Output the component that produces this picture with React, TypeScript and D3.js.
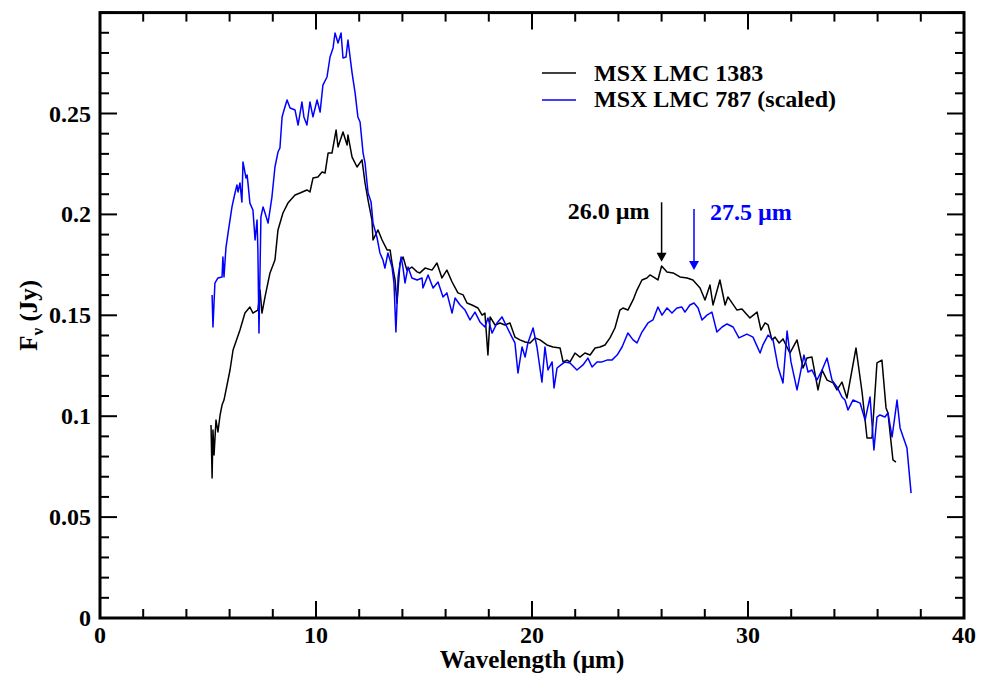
import React from "react";
import * as d3 from "d3";

// ---- data (wavelength in µm, flux in Jy) ----
const lmc1383Wave = [
  5.14, 5.19, 5.23, 5.28, 5.37, 5.46, 5.56, 5.65, 5.74, 6.02, 6.16, 6.48, 6.71, 6.94, 7.08, 7.31, 7.41, 7.5, 7.64,
  7.87, 8.1, 8.24, 8.47, 8.7, 9.03, 9.26, 9.58, 9.72, 9.86, 10.09, 10.28, 10.42, 10.56, 10.74, 10.93, 11.02, 11.25,
  11.44, 11.48, 11.67, 11.9, 12.13, 12.27, 12.41, 12.59, 12.64, 12.87, 13.06, 13.29, 13.43, 13.52, 13.66, 13.75,
  13.89, 14.03, 14.21, 14.44, 14.68, 14.81, 15.05, 15.37, 15.6, 15.83, 16.06, 16.3, 16.57, 16.81, 16.99, 17.22,
  17.5, 17.69, 17.82, 17.96, 18.06, 18.29, 18.52, 18.75, 18.98, 19.21, 19.44, 19.68, 19.91, 20.14, 20.37, 20.69,
  20.97, 21.3, 21.44, 21.62, 21.76, 21.99, 22.22, 22.45, 22.69, 22.92, 23.15, 23.38, 23.61, 23.84, 24.07, 24.21,
  24.44, 24.68, 24.86, 25.09, 25.32, 25.46, 25.69, 25.83, 26.0, 26.25, 26.53, 26.85, 27.18, 27.45, 27.78, 28.01,
  28.24, 28.38, 28.7, 28.94, 29.07, 29.49, 29.72, 30.09, 30.42, 30.6, 30.79, 30.93, 31.11, 31.25, 31.44, 31.62,
  31.94, 32.27, 32.55, 32.73, 32.96, 33.24, 33.43, 33.66, 33.94, 34.12, 34.35, 34.58, 35.0, 35.28, 35.51, 35.74,
  35.97, 36.2, 36.39, 36.48, 36.71, 36.85,
];
const lmc1383Flux = [
  0.0956, 0.0694, 0.0932, 0.0808, 0.0981, 0.0922, 0.1006, 0.1055, 0.108, 0.1229, 0.1328, 0.1427, 0.1511, 0.1541,
  0.1511, 0.1526, 0.1625, 0.1511, 0.1591, 0.171, 0.1774, 0.1923, 0.2007, 0.2056, 0.2096, 0.2106, 0.2121, 0.2111,
  0.218, 0.2185, 0.221, 0.2205, 0.2304, 0.2304, 0.2418, 0.2334, 0.2408, 0.2344, 0.2393, 0.2284, 0.2235, 0.227,
  0.2156, 0.2071, 0.1972, 0.1873, 0.1923, 0.1873, 0.1824, 0.1824, 0.1759, 0.1675, 0.156, 0.1759, 0.1789, 0.1724,
  0.1739, 0.1715, 0.171, 0.1734, 0.1724, 0.1759, 0.1685, 0.1724, 0.1665, 0.1611, 0.1601, 0.1561, 0.1551, 0.1536,
  0.1501, 0.1511, 0.1303, 0.1492, 0.1452, 0.1462, 0.1452, 0.1462, 0.1392, 0.1378, 0.1368, 0.1363, 0.1388, 0.1378,
  0.1353, 0.1343, 0.1338, 0.1269, 0.1278, 0.1269, 0.1313, 0.1293, 0.1313, 0.1303, 0.1338, 0.1343, 0.1353, 0.1388,
  0.1437, 0.1526, 0.1536, 0.1526, 0.1576, 0.1625, 0.1675, 0.1685, 0.17, 0.1685, 0.1675, 0.1744, 0.1715, 0.171,
  0.169, 0.1685, 0.1675, 0.1635, 0.1576, 0.165, 0.1551, 0.1675, 0.1551, 0.1591, 0.1526, 0.1531, 0.1487, 0.1516,
  0.1427, 0.1462, 0.1452, 0.1378, 0.1392, 0.1363, 0.1383, 0.1313, 0.1378, 0.1239, 0.1288, 0.1293, 0.113, 0.1229,
  0.1179, 0.1165, 0.113, 0.1169, 0.109, 0.1338, 0.112, 0.0892, 0.0892, 0.1264, 0.1278, 0.1041, 0.1016, 0.0783,
  0.0773,
];

const lmc787Wave = [
  5.19, 5.23, 5.32, 5.46, 5.65, 5.69, 5.74, 5.83, 5.93, 6.11, 6.25, 6.34, 6.39, 6.48, 6.57, 6.62, 6.76, 6.81, 6.85,
  6.94, 7.08, 7.18, 7.27, 7.31, 7.36, 7.45, 7.55, 7.64, 7.78, 7.96, 8.1, 8.24, 8.33, 8.43, 8.52, 8.66, 8.8, 9.03,
  9.17, 9.35, 9.44, 9.58, 9.72, 9.86, 10.05, 10.19, 10.32, 10.51, 10.65, 10.79, 10.88, 11.02, 11.16, 11.25, 11.39,
  11.48, 11.67, 11.81, 11.94, 12.04, 12.18, 12.27, 12.41, 12.55, 12.64, 12.82, 12.96, 13.1, 13.19, 13.33, 13.52,
  13.61, 13.7, 13.8, 13.94, 14.03, 14.12, 14.26, 14.44, 14.68, 14.91, 14.95, 15.19, 15.42, 15.65, 15.88, 16.06,
  16.3, 16.44, 16.67, 16.9, 17.13, 17.36, 17.59, 17.82, 17.96, 18.15, 18.38, 18.61, 18.84, 19.07, 19.21, 19.35,
  19.54, 19.68, 19.81, 20.05, 20.23, 20.46, 20.6, 20.74, 20.93, 21.02, 21.16, 21.34, 21.53, 21.76, 22.08, 22.36,
  22.59, 22.78, 23.01, 23.24, 23.47, 23.7, 23.94, 24.17, 24.44, 24.68, 24.86, 25.09, 25.37, 25.6, 25.83, 26.02,
  26.25, 26.48, 26.71, 26.94, 27.08, 27.31, 27.5, 27.69, 27.87, 28.1, 28.33, 28.56, 28.8, 29.03, 29.31, 29.58,
  29.95, 30.23, 30.56, 30.69, 30.93, 31.16, 31.39, 31.62, 31.81, 31.99, 32.27, 32.59, 32.78, 32.96, 33.19, 33.43,
  33.66, 33.89, 34.12, 34.35, 34.49, 34.63, 34.86, 35.19, 35.42, 35.65, 35.83, 35.97, 36.11, 36.34, 36.48, 36.67,
  36.9, 37.04, 37.36, 37.55,
];
const lmc787Flux = [
  0.1601, 0.1442, 0.166, 0.1685, 0.169, 0.1789, 0.169, 0.1834, 0.1908, 0.2037, 0.2106, 0.2146, 0.2111, 0.2156,
  0.2061, 0.226, 0.218, 0.2195, 0.2156, 0.2056, 0.2022, 0.1873, 0.1972, 0.1824, 0.1412, 0.1987, 0.2037, 0.2007,
  0.1957, 0.2086, 0.2235, 0.2309, 0.2329, 0.2483, 0.2517, 0.2567, 0.2527, 0.2517, 0.2443, 0.2557, 0.2483, 0.2443,
  0.2557, 0.2483, 0.2567, 0.2507, 0.2641, 0.2681, 0.278, 0.2825, 0.2899, 0.2849, 0.2899, 0.2775, 0.278, 0.2864,
  0.2701, 0.2602, 0.2483, 0.2458, 0.2304, 0.2255, 0.2106, 0.2061, 0.1957, 0.1888, 0.1809, 0.1774, 0.1734, 0.1809,
  0.1739, 0.166, 0.1417, 0.169, 0.1789, 0.1734, 0.166, 0.1739, 0.1685, 0.1675, 0.1685, 0.1635, 0.17, 0.1635,
  0.1665, 0.1591, 0.1611, 0.1511, 0.1586, 0.1551, 0.1526, 0.1477, 0.1516, 0.1467, 0.1442, 0.1487, 0.1412, 0.1462,
  0.1492, 0.1442, 0.1392, 0.1363, 0.1214, 0.1343, 0.1293, 0.1363, 0.1437, 0.1343, 0.1169, 0.1343, 0.1229, 0.1269,
  0.114, 0.1239, 0.1254, 0.1269, 0.1264, 0.1229, 0.1254, 0.1288, 0.1244, 0.1269, 0.1269, 0.1278, 0.1278, 0.1303,
  0.1343, 0.1412, 0.1378, 0.1363, 0.1417, 0.1462, 0.1477, 0.1541, 0.1501, 0.1536, 0.1511, 0.1536, 0.1541, 0.1516,
  0.1551, 0.1561, 0.1536, 0.1477, 0.1501, 0.1516, 0.1417, 0.1442, 0.1457, 0.1442, 0.1388, 0.1407, 0.1392, 0.1313,
  0.1353, 0.1402, 0.1378, 0.1244, 0.1165, 0.1422, 0.1269, 0.113, 0.1303, 0.1219, 0.1229, 0.1179, 0.1229, 0.1288,
  0.1179, 0.1145, 0.1095, 0.108, 0.1031, 0.108, 0.1065, 0.0981, 0.1095, 0.0833, 0.0996, 0.1006, 0.0996, 0.1016,
  0.0897, 0.108, 0.0942, 0.0842, 0.0619,
];

const seriesNames = ["MSX LMC 1383", "MSX LMC 787 (scaled)"];
const seriesColors = ["#000000", "#0000ff"];

const xMajorTicks = [0, 10, 20, 30, 40];
const xTickLabels = ["0", "10", "20", "30", "40"];
const yMajorTicks = [0, 0.05, 0.1, 0.15, 0.2, 0.25];
const yTickLabels = ["0", "0.05", "0.1", "0.15", "0.2", "0.25"];

// feature markers: [wavelength, label, arrow top flux, arrow tip flux]
const featureWave = [26.0, 27.5];
const featureLabels = ["26.0 µm", "27.5 µm"];
const featureTop = [0.206, 0.2027];
const featureTip = [0.1765, 0.1725];

const W = 988;
const H = 676;
const FONT = "'Liberation Serif', 'Times New Roman', Times, serif";

export default function App() {
  const x = d3.scaleLinear().domain([0, 40]).range([100, 964]);
  const y = d3.scaleLinear().domain([0, 0.3]).range([618, 12.6]);
  const [x0, x1] = x.range();
  const [y0, y1] = y.range();

  const xMinor = d3.range(0, 40.001, 2);
  const yMinor = d3.range(0, 0.3001, 0.01);

  const line = d3
    .line<[number, number]>()
    .x((d) => x(d[0]))
    .y((d) => y(d[1]));

  const s1 = lmc1383Wave.map((w, i) => [w, lmc1383Flux[i]] as [number, number]);
  const s2 = lmc787Wave.map((w, i) => [w, lmc787Flux[i]] as [number, number]);

  const majLen = 17;
  const minLen = 9;
  const isXMajor = (v: number) => Math.abs(v % 10) < 1e-6;
  const isYMajor = (v: number) => Math.abs(Math.round(v * 100) % 5) === 0;

  return (
    <svg
      width={W}
      height={H}
      style={{ position: "absolute", left: 0, top: 0, background: "#fff" }}
      fontFamily={FONT}
    >
      <rect x={0} y={0} width={W} height={H} fill="#fff" />
      {/* series */}
      <path d={line(s1) || ""} fill="none" stroke={seriesColors[0]} strokeWidth={1.5} strokeLinejoin="round" />
      <path d={line(s2) || ""} fill="none" stroke={seriesColors[1]} strokeWidth={1.5} strokeLinejoin="round" />

      {/* ticks: x (bottom + top) */}
      {xMinor.map((v, i) => {
        const len = isXMajor(v) ? majLen : minLen;
        const px = x(v);
        return (
          <g key={"xt" + i} stroke="#000" strokeWidth={2}>
            <line x1={px} x2={px} y1={y0} y2={y0 - len} />
            <line x1={px} x2={px} y1={y1} y2={y1 + len} />
          </g>
        );
      })}
      {yMinor.map((v, i) => {
        const len = isYMajor(v) ? majLen : minLen;
        const py = y(v);
        return (
          <g key={"yt" + i} stroke="#000" strokeWidth={2}>
            <line x1={x0} x2={x0 + len} y1={py} y2={py} />
            <line x1={x1} x2={x1 - len} y1={py} y2={py} />
          </g>
        );
      })}
      {/* frame */}
      <rect x={x0} y={y1} width={x1 - x0} height={y0 - y1} fill="none" stroke="#000" strokeWidth={3} />

      {/* tick labels */}
      {xMajorTicks.map((v, i) => (
        <text key={"xl" + i} x={x(v)} y={643} textAnchor="middle" fontSize={24} fontWeight="bold">
          {xTickLabels[i]}
        </text>
      ))}
      {yMajorTicks.map((v, i) => (
        <text key={"yl" + i} x={91} y={y(v) + 8} textAnchor="end" fontSize={24} fontWeight="bold">
          {yTickLabels[i]}
        </text>
      ))}

      {/* axis titles */}
      <text x={(x0 + x1) / 2} y={668} textAnchor="middle" fontSize={25} fontWeight="bold">
        Wavelength (µm)
      </text>
      <text transform={`translate(37, ${(y0 + y1) / 2}) rotate(-90)`} textAnchor="middle" fontSize={25} fontWeight="bold">
        F
        <tspan fontSize={17} dy={6}>ν</tspan>
        <tspan dy={-6}> (Jy)</tspan>
      </text>

      {/* legend */}
      {seriesNames.map((n, i) => (
        <g key={"lg" + i}>
          <line x1={542} x2={576} y1={73 + i * 27} y2={73 + i * 27} stroke={seriesColors[i]} strokeWidth={1.5} />
          <text x={594} y={81 + i * 26} fontSize={24} fontWeight="bold" fill="#000">
            {n}
          </text>
        </g>
      ))}

      {/* feature arrows */}
      {featureWave.map((w, i) => {
        const px = x(w);
        const top = y(featureTop[i]);
        const tip = y(featureTip[i]);
        const c = seriesColors[i];
        return (
          <g key={"fa" + i}>
            <line x1={px} x2={px} y1={top} y2={tip - 8} stroke={c} strokeWidth={1.5} />
            <path d={`M${px - 5},${tip - 9} L${px + 5},${tip - 9} L${px},${tip} Z`} fill={c} />
            <text
              x={i === 0 ? px - 12 : px + 16}
              y={i === 0 ? 219 : 220}
              textAnchor={i === 0 ? "end" : "start"}
              fontSize={24}
              fontWeight="bold"
              fill={c}
            >
              {featureLabels[i]}
            </text>
          </g>
        );
      })}
    </svg>
  );
}
